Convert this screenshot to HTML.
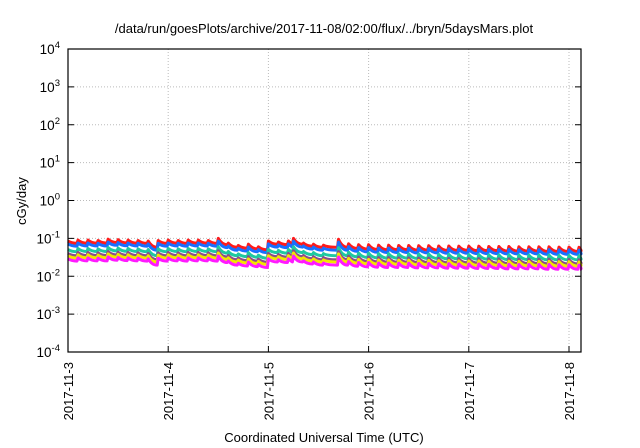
<!DOCTYPE html>
<html><head><meta charset="utf-8"><style>
body{margin:0;background:#fff}
svg{display:block;font-family:"Liberation Sans",sans-serif}
</style></head><body>
<svg id="c" width="640" height="448">
<text x="324" y="33" font-size="13" text-anchor="middle">/data/run/goesPlots/archive/2017-11-08/02:00/flux/../bryn/5daysMars.plot</text>
<g id="grid"></g><g id="series"></g><g id="axes"></g>
<text x="324" y="442" font-size="13" text-anchor="middle">Coordinated Universal Time (UTC)</text>
<text transform="translate(26,201) rotate(-90)" font-size="13" text-anchor="middle">cGy/day</text>
</svg>
<script>
const xTickLabels=["2017-11-3","2017-11-4","2017-11-5","2017-11-6","2017-11-7","2017-11-8"];
const yExponents=[-4,-3,-2,-1,0,1,2,3,4];
const seriesNames=["red","blue","teal","purple","yellow","magenta"];
const seriesColors=["#ff1a1a","#1a6fff","#1fc9a0","#8b4c8b","#f2e600","#ff1aff"];
const seriesRatios=[1,0.84,0.6,0.47,0.41,0.34];
const peakTimes=[0,0.1,0.2,0.3,0.4,0.5,0.6,0.7,0.8,0.9,1.0,1.1,1.2,1.3,1.4,1.5,1.6,1.7,1.8,1.9,2.0,2.1,2.2,2.25,2.35,2.45,2.55,2.7,2.8,2.9,3.0,3.1,3.2,3.3,3.4,3.5,3.6,3.7,3.8,3.9,4.0,4.1,4.2,4.3,4.4,4.5,4.6,4.7,4.8,4.9,5.0,5.1];
const peakVals=[0.085,0.09,0.09,0.088,0.095,0.092,0.09,0.088,0.085,0.088,0.09,0.088,0.09,0.09,0.088,0.1,0.075,0.065,0.07,0.06,0.085,0.08,0.085,0.1,0.075,0.07,0.066,0.095,0.072,0.068,0.068,0.066,0.066,0.065,0.065,0.064,0.064,0.063,0.063,0.062,0.062,0.062,0.061,0.061,0.061,0.06,0.06,0.06,0.06,0.059,0.059,0.058];
const troughVals=[0.074,0.075,0.075,0.075,0.078,0.076,0.075,0.074,0.058,0.074,0.075,0.074,0.075,0.075,0.074,0.068,0.058,0.055,0.053,0.05,0.07,0.068,0.07,0.07,0.062,0.058,0.058,0.058,0.054,0.052,0.051,0.05,0.05,0.05,0.049,0.049,0.049,0.048,0.048,0.048,0.047,0.047,0.047,0.046,0.046,0.046,0.046,0.045,0.045,0.045,0.045,0.045];
const NS="http://www.w3.org/2000/svg";
const L=68,R=581,T=49,B=352,dayW=100.2;
const xs=d=>L+d*dayW;
const ys=v=>B-(Math.log10(v)+4)*(B-T)/8;
function mk(tag,attrs,parent){const e=document.createElementNS(NS,tag);for(const k in attrs)e.setAttribute(k,attrs[k]);parent.appendChild(e);return e;}
const grid=document.getElementById('grid'),axes=document.getElementById('axes'),ser=document.getElementById('series');
yExponents.forEach((p,i)=>{const y=ys(Math.pow(10,p));
 if(p>-4&&p<4){const g=mk('line',{x1:L,x2:R,y1:y,y2:y,stroke:'#bbb','stroke-dasharray':'1,2'},grid);
 
 }
 const t=mk('line',{x1:L,x2:L+6,y1:y,y2:y,stroke:'#000'},axes);
 
 
 const t2=mk('line',{x1:R-6,x2:R,y1:y,y2:y,stroke:'#000'},axes);
 
 
 const tx=mk('text',{x:L-8,y:y+5,'font-size':13.5,'text-anchor':'end'},axes);
 
 
 tx.innerHTML='10<tspan dy="-6" font-size="9.5">'+p+'</tspan>';
});
xTickLabels.forEach((s,i)=>{const x=xs(i);
 if(i>0){const g=mk('line',{x1:x,x2:x,y1:T,y2:B,stroke:'#bbb','stroke-dasharray':'1,2'},grid);
 
 }
 const t=mk('line',{x1:x,x2:x,y1:B-6,y2:B,stroke:'#000'},axes);
 
 
 const tx=mk('text',{transform:`translate(${x+5},${B+10}) rotate(-90)`,'font-size':13,'text-anchor':'end'},axes);
 
 
 tx.textContent=s;
});
const frame=mk('rect',{x:L,y:T,width:R-L,height:B-T,fill:'none',stroke:'#000','stroke-width':1.2},axes);


seriesNames.forEach((n,si)=>{const r=seriesRatios[si];let d='';
 for(let i=0;i<peakTimes.length;i++){
  const t0=peakTimes[i],t1=(i+1<peakTimes.length?peakTimes[i+1]:5.12)-0.01;
  const y0=ys(peakVals[i]*r),y1=ys(troughVals[i]*r);
  d+=(i?'L':'M')+xs(t0).toFixed(1)+','+y0.toFixed(1)+' Q'+xs(t0+0.035).toFixed(1)+','+y1.toFixed(1)+' '+Math.min(xs(t1),R).toFixed(1)+','+y1.toFixed(1)+' ';
 }
 const p=mk('path',{d:d,fill:'none',stroke:seriesColors[si],'stroke-width':3,'stroke-linejoin':'round'},ser);
 
 
});
</script>
</body></html>
